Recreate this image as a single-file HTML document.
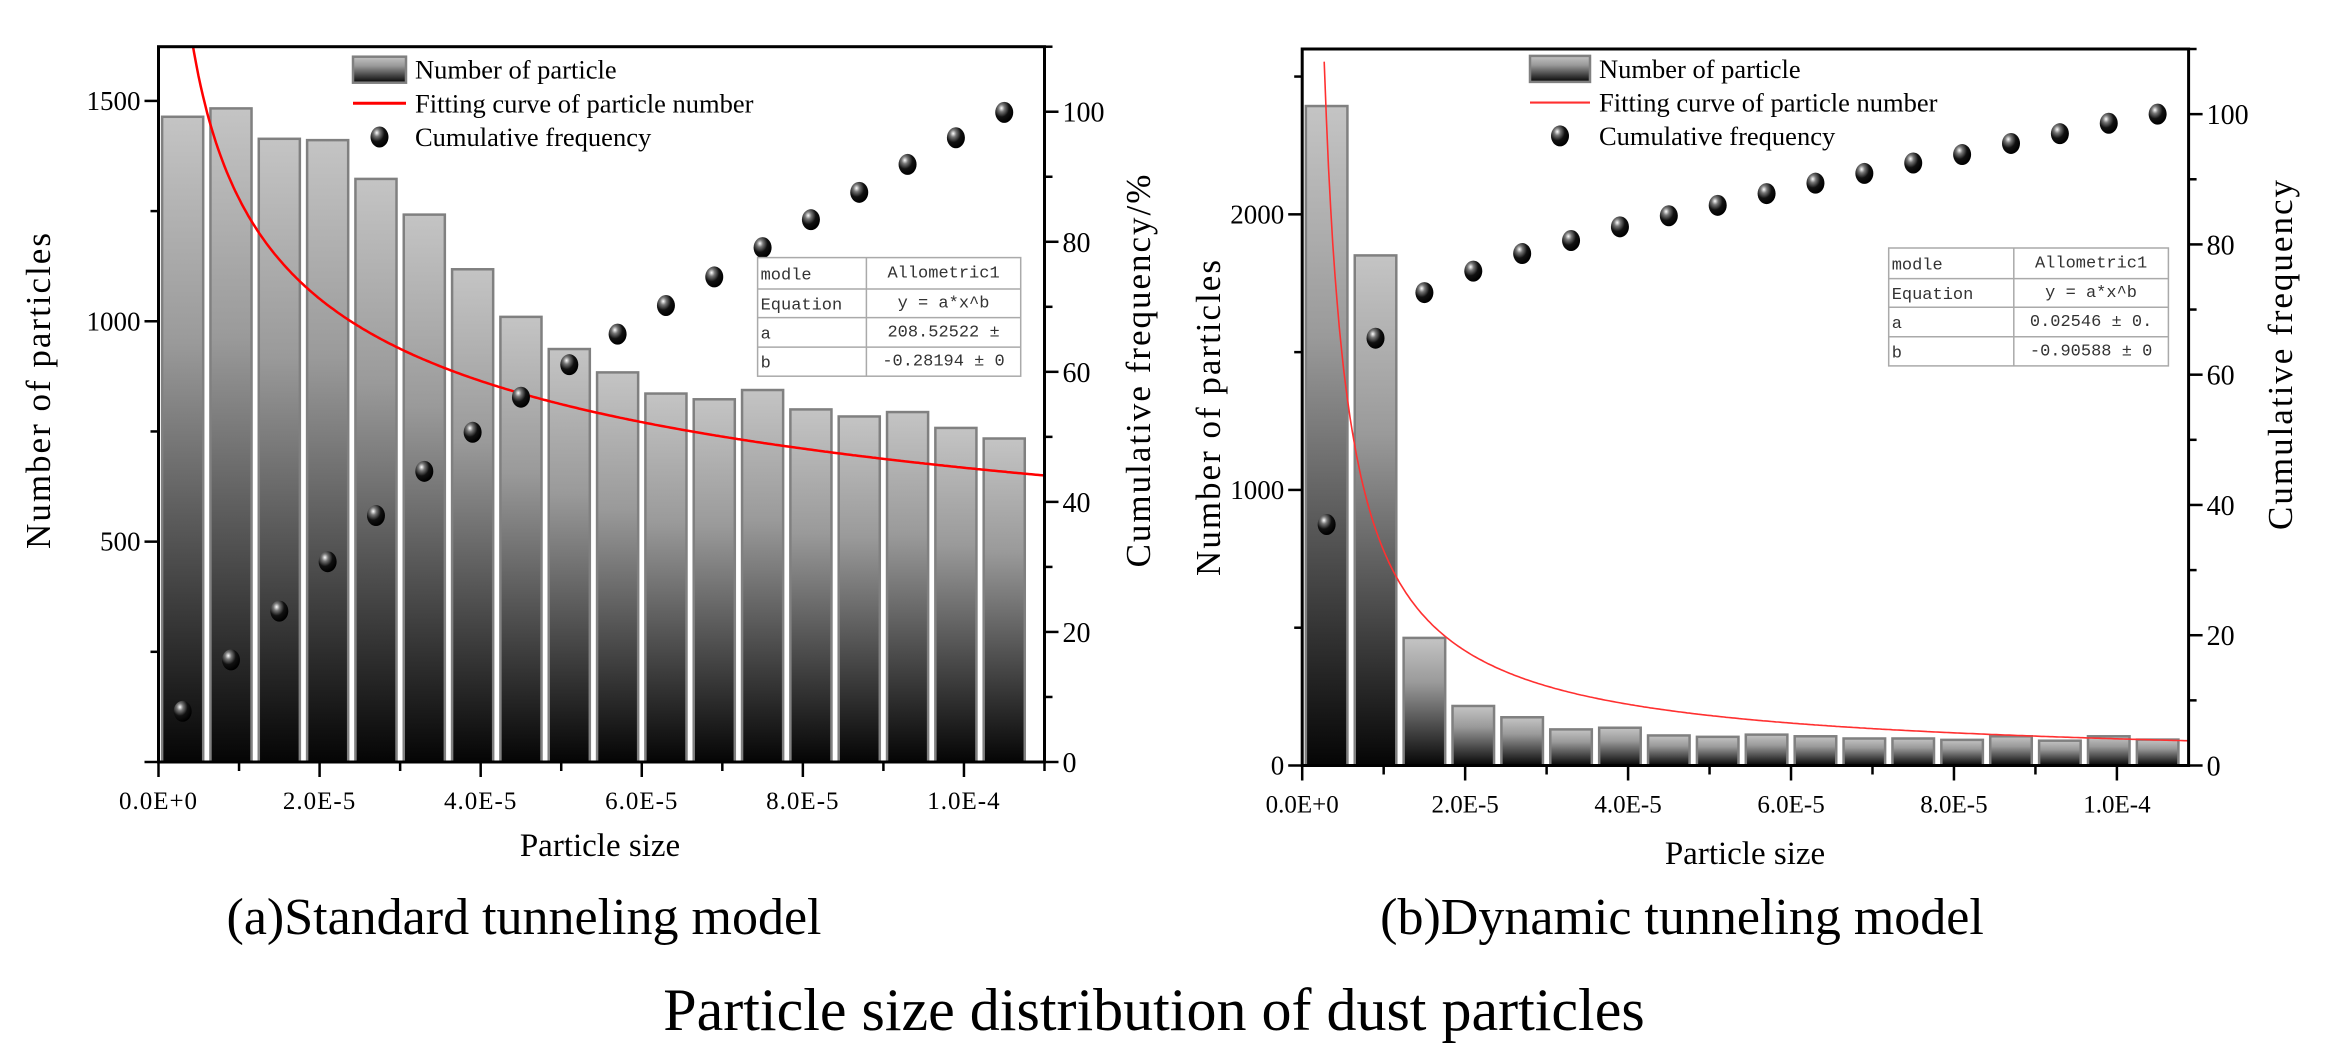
<!DOCTYPE html>
<html><head><meta charset="utf-8"><style>
html,body{margin:0;padding:0;background:#fff;}
svg{display:block;}
text{font-family:"Liberation Serif",serif;fill:#000;}
.mono{font-family:"Liberation Mono",monospace;fill:#333;font-size:17px;}
</style></head><body>
<svg id="fig" xmlns="http://www.w3.org/2000/svg" width="2334" height="1052" viewBox="0 0 2334 1052">
<defs>
<linearGradient id="barGrad" x1="0" y1="0" x2="0" y2="1">
<stop offset="0" stop-color="#c4c4c4"/><stop offset="0.35" stop-color="#9a9a9a"/><stop offset="1" stop-color="#050505"/>
</linearGradient>
<radialGradient id="dotGrad" cx="0.35" cy="0.3" r="0.7">
<stop offset="0" stop-color="#ffffff"/><stop offset="0.25" stop-color="#777"/><stop offset="0.6" stop-color="#111"/><stop offset="1" stop-color="#000"/>
</radialGradient>
<clipPath id="clipA"><rect x="158.5" y="46.7" width="886" height="715.3"/></clipPath>
<clipPath id="clipB"><rect x="1302.2" y="49" width="886.4" height="716.5"/></clipPath>
</defs>
<g id="panelA"></g>
<g id="panelB"></g>
<text x="524" y="934" font-size="52" text-anchor="middle">(a)Standard tunneling model</text>
<text x="1682" y="934" font-size="52" text-anchor="middle">(b)Dynamic tunneling model</text>
<text x="1154" y="1030" font-size="60" text-anchor="middle">Particle size distribution of dust particles</text>
</svg>
<script>
// ---- data (x in units of 1E-5) ----
const binCenters = [0.3,0.9,1.5,2.1,2.7,3.3,3.9,4.5,5.1,5.7,6.3,6.9,7.5,8.1,8.7,9.3,9.9,10.5];
const countsA = [1464,1483,1414,1411,1323,1242,1118,1010,937,884,836,823,844,800,784,794,758,734];
const cumA = [7.8,15.7,23.2,30.8,37.9,44.7,50.7,56.1,61.1,65.8,70.2,74.6,79.1,83.4,87.6,91.9,96.0,99.9];
const countsB = [2393,1851,463,216,175,131,137,109,104,112,106,98,98,93,106,90,106,94];
const cumB = [37.0,65.6,72.6,75.9,78.6,80.6,82.7,84.4,86.0,87.8,89.4,90.9,92.5,93.8,95.5,97.0,98.6,100.0];
const fitA = [1278, -0.28194];
const fitB = [780, -0.90588];
const xTickVals = [0,2,4,6,8,10];
const xTickLabels = ["0.0E+0","2.0E-5","4.0E-5","6.0E-5","8.0E-5","1.0E-4"];
const yTicksA = [500,1000,1500];
const yTicksB = [0,1000,2000];
const cumTicks = [0,20,40,60,80,100];
const tableA = [["modle","Allometric1"],["Equation","y = a*x^b"],["a","208.52522 ±"],["b","-0.28194 ± 0"]];
const tableB = [["modle","Allometric1"],["Equation","y = a*x^b"],["a","0.02546 ± 0."],["b","-0.90588 ± 0"]];

const NS="http://www.w3.org/2000/svg";
function mk(parent,tag,attrs,txt){const e=document.createElementNS(NS,tag);for(const k in attrs)e.setAttribute(k,attrs[k]);if(txt!==undefined)e.textContent=txt;parent.appendChild(e);return e;}

function panel(g,cfg){
  const {L,R,T,B,xMax,yMax,counts,cum,fit,fitStart,clip,yTicks,yMinor,table,tbl,leg,yTitle,cumTitle,yTitleX,cumTitleX,yTitleY,cumTitleY,fitW,fitColor,xTitleX,xTitleY,xTickFmt} = cfg;
  const xs=v=>L+(v/xMax)*(R-L);
  const ys=v=>B-(v/yMax)*(B-T);
  const cs=v=>B-(v/110)*(B-T);
  const bw=(R-L)/xMax*0.51;
  const bars=mk(g,'g',{});
   
  counts.forEach((c,i)=>{
    const r=mk(bars,'rect',{x:xs(binCenters[i])-bw/2,y:ys(c),width:bw,height:B-ys(c),fill:'url(#barGrad)',stroke:'#808080','stroke-width':2.5});
     
  });
  let d='';const n=400;
  for(let k=0;k<=n;k++){const x=fitStart+(xMax-fitStart)*k/n;const y=Math.min(fit[0]*Math.pow(x,fit[1]),yMax*1.2);d+=(k?'L':'M')+xs(x).toFixed(1)+','+ys(y).toFixed(1);}
  const fc=mk(g,'path',{d:d,fill:'none',stroke:fitColor,'stroke-width':fitW,'clip-path':'url(#'+clip+')'});
   
  cum.forEach((c,i)=>{
    const dt=mk(g,'ellipse',{cx:xs(binCenters[i]),cy:cs(c),rx:9,ry:10.5,fill:'url(#dotGrad)'});
     
  });
  const fr=mk(g,'rect',{x:L,y:T,width:R-L,height:B-T,fill:'none',stroke:'#000','stroke-width':3});
   
  for(let v=0;v<=xMax+1e-9;v+=1){const maj=Math.round(v)%2===0;mk(g,'line',{x1:xs(v),x2:xs(v),y1:B,y2:B+(maj?15:9),stroke:'#000','stroke-width':2.5});}
  xTickVals.forEach((v,i)=>{const t=mk(g,'text',{x:xs(v),y:B+47,'font-size':25,'text-anchor':'middle','letter-spacing':xTickFmt},xTickLabels[i]);});
  for(let v=0;v<=yMax;v+=yMinor){const maj=yTicks.includes(v)||v%(yMinor*2)===0;mk(g,'line',{x1:L,x2:L-(maj?14:8),y1:ys(v),y2:ys(v),stroke:'#000','stroke-width':2.5});}
  yTicks.forEach(v=>{const t=mk(g,'text',{x:L-18,y:ys(v)+9,'font-size':27,'text-anchor':'end'},String(v));});
  for(let v=0;v<=110;v+=10){const maj=v%20===0;mk(g,'line',{x1:R,x2:R+(maj?14:8),y1:cs(v),y2:cs(v),stroke:'#000','stroke-width':2.5});}
  cumTicks.forEach(v=>{const t=mk(g,'text',{x:R+18,y:cs(v)+10,'font-size':28},String(v));});
  let t=mk(g,'text',{x:0,y:0,'font-size':35,'text-anchor':'middle',transform:`translate(${yTitleX},${yTitleY}) rotate(-90)`,'font-family':'"Liberation Sans",sans-serif','letter-spacing':'2'},yTitle);
  
  t=mk(g,'text',{x:0,y:0,'font-size':35,'text-anchor':'middle',transform:`translate(${cumTitleX},${cumTitleY}) rotate(-90)`,'font-family':'"Liberation Sans",sans-serif','letter-spacing':'2'},cumTitle);
  
  t=mk(g,'text',{x:xTitleX,y:xTitleY,'font-size':33,'text-anchor':'middle'},'Particle size');
  
  const lg=mk(g,'g',{});
   
  mk(lg,'rect',{x:leg.x,y:leg.y1-13,width:leg.w,height:26,fill:'url(#barGrad)',stroke:'#808080','stroke-width':2.5});
  mk(lg,'line',{x1:leg.x,x2:leg.x+leg.w,y1:leg.y2,y2:leg.y2,stroke:fitColor,'stroke-width':fitW+0.5});
  mk(lg,'ellipse',{cx:leg.x+leg.w/2,cy:leg.y3,rx:9,ry:10.5,fill:'url(#dotGrad)'});
  [["Number of particle",leg.y1],["Fitting curve of particle number",leg.y2],["Cumulative frequency",leg.y3]].forEach(([s,y])=>{
    const e=mk(lg,'text',{x:leg.x+leg.w+9,y:y+9,'font-size':26.5},s);
     
  });
  const tg=mk(g,'g',{});
   
  mk(tg,'rect',{x:tbl.x0,y:tbl.rows[0],width:tbl.x2-tbl.x0,height:tbl.rows[4]-tbl.rows[0],fill:'#fff',stroke:'#aaa','stroke-width':1.5});
  mk(tg,'line',{x1:tbl.x1,x2:tbl.x1,y1:tbl.rows[0],y2:tbl.rows[4],stroke:'#aaa','stroke-width':1.5});
  for(let r=1;r<4;r++)mk(tg,'line',{x1:tbl.x0,x2:tbl.x2,y1:tbl.rows[r],y2:tbl.rows[r],stroke:'#aaa','stroke-width':1.5});
  table.forEach((row,r)=>{
    const ym=(tbl.rows[r]+tbl.rows[r+1])/2+6;
    mk(tg,'text',{x:tbl.x0+3,y:ym,class:'mono'},row[0]);
    mk(tg,'text',{x:(tbl.x1+tbl.x2)/2,y:ym-2,class:'mono','text-anchor':'middle'},row[1]);
  });
}
panel(document.getElementById('panelA'),{L:158.5,R:1044.5,T:46.7,B:762,xMax:11,yMax:1623,counts:countsA,cum:cumA,fit:fitA,fitStart:0.2,clip:'clipA',
  yTicks:yTicksA,yMinor:250,table:tableA,tbl:{x0:757.6,x1:866.4,x2:1020.7,rows:[257.6,289,317.6,347.1,376.2]},
  leg:{x:353,w:53,y1:69.7,y2:103.3,y3:137},yTitle:'Number of particles',cumTitle:'Cumulative frequency/%',
  yTitleX:50,yTitleY:390,cumTitleX:1150,cumTitleY:370,fitW:2.5,fitColor:'#ff0000',xTitleX:600,xTitleY:856,xTickFmt:'1'});
panel(document.getElementById('panelB'),{L:1302.2,R:2188.6,T:49,B:765.5,xMax:10.88,yMax:2600,counts:countsB,cum:cumB,fit:fitB,fitStart:0.27,clip:'clipB',
  yTicks:yTicksB,yMinor:500,table:tableB,tbl:{x0:1888.7,x1:2013.8,x2:2168.4,rows:[248,278.6,307.3,336.8,365.9]},
  leg:{x:1530,w:60,y1:68.9,y2:102.6,y3:135.9},yTitle:'Number of particles',cumTitle:'Cumulative frequency',
  yTitleX:1220,yTitleY:417,cumTitleX:2292,cumTitleY:354,fitW:1.6,fitColor:'#ff3030',xTitleX:1745,xTitleY:864,xTickFmt:'0'});
</script>
</body></html>
